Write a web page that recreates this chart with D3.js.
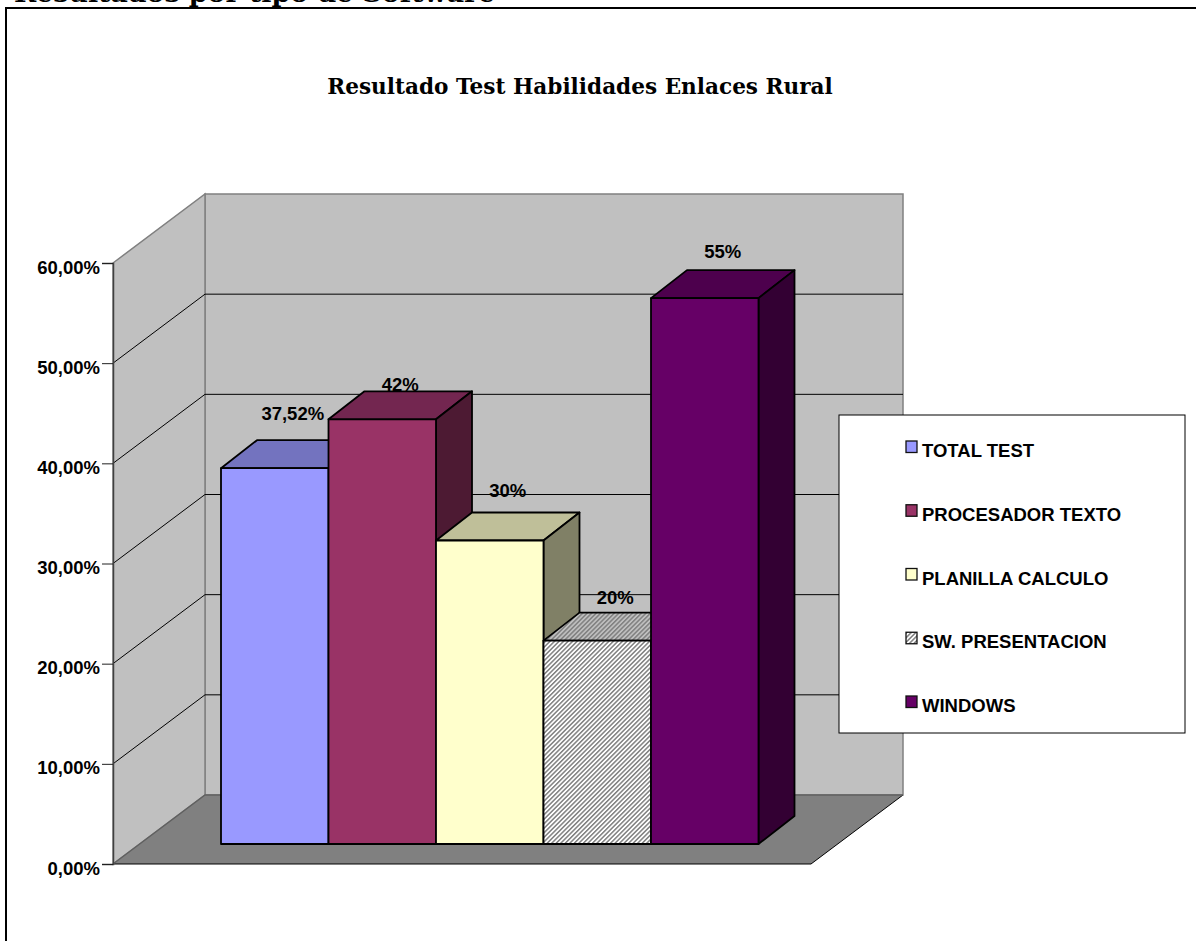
<!DOCTYPE html>
<html>
<head>
<meta charset="utf-8">
<script src="https://cdn.jsdelivr.net/npm/d3@7"></script>
<style>
    html, body { margin: 0; padding: 0; background: #fff; overflow: hidden; }
    svg { display: block; }
    text { font-family: "Liberation Sans", Arial, sans-serif; font-weight: bold; fill: #000; }
    .serif { font-family: "DejaVu Serif", serif; }
</style>
</head>
<body>
<svg id="chart" width="1196" height="941"></svg>
<script>
// --- Data ---
const categories = ["TOTAL TEST", "PROCESADOR TEXTO", "PLANILLA CALCULO", "SW. PRESENTACION", "WINDOWS"];
const values = [37.52, 42.4, 30.3, 20.3, 54.5];
const valueLabels = ["37,52%", "42%", "30%", "20%", "55%"];
const yTicks = [0, 10, 20, 30, 40, 50, 60];
const barColors = ["#9999ff", "#993366", "#ffffcc", "url(#hatch)", "#660066"];
const topColors = ["#7373bf", "#732650", "#bfbf99", "url(#hatchTop)", "#4d004d"];
const sideColors = ["#4d4d80", "#4d1a33", "#808066", "url(#hatchTop)", "#330033"];

const svg = d3.select("#chart");

// --- Layout ---
const depth = { x: 92, y: -69 };       // wall depth
const barDepth = { x: 36, y: -28 };    // bar depth
const y = d3.scaleLinear().domain([0, 60]).range([864, 263]);
const x = d3.scaleBand().domain(categories).range([221, 758.5]);
const floorRight = 811;
const axisLeft = 113;
const barBase = 844;
const labelGap = [26, 6, 21, 15, 18];  // gap above the bar top, differs per bar in the original

const pts = arr => arr.map(p => p.join(",")).join(" ");

// --- Hatch patterns ---
const defs = svg.append("defs");
function hatch(id, bg) {
    const p = defs.append("pattern").attr("id", id)
        .attr("width", 3.2).attr("height", 3.2)
        .attr("patternUnits", "userSpaceOnUse")
        .attr("patternTransform", "rotate(-45)");
    p.append("rect").attr("width", 3.2).attr("height", 3.2).attr("fill", bg);
    p.append("rect").attr("width", 3.2).attr("height", 1.5).attr("fill", "#808080");
}
hatch("hatch", "#fff");
hatch("hatchTop", "#bfbfbf");

// --- Page heading, cut off by the top of the picture ---
svg.append("text").attr("class", "serif")
    .attr("x", 14).attr("y", 2)
    .attr("font-size", 26.8)
    .text("Resultados por tipo de Software");

// --- Outer frame, runs off the right and bottom of the picture ---
svg.append("rect")
    .attr("x", 6).attr("y", 8)
    .attr("width", 1300).attr("height", 1000)
    .attr("fill", "#fff").attr("stroke", "#000").attr("stroke-width", 2);

// --- Chart title ---
svg.append("text").attr("class", "serif")
    .attr("x", 580).attr("y", 94)
    .attr("text-anchor", "middle")
    .attr("font-size", 21.6)
    .text("Resultado Test Habilidades Enlaces Rural");

// --- Walls ---
svg.append("polygon")
    .attr("points", pts([[axisLeft + depth.x, y(60) + depth.y], [floorRight + depth.x, y(60) + depth.y], [floorRight + depth.x, y(0) + depth.y], [axisLeft + depth.x, y(0) + depth.y]]))
    .attr("fill", "#c0c0c0").attr("stroke", "#808080").attr("stroke-width", 1.5);
svg.append("polygon")
    .attr("points", pts([[axisLeft, y(60)], [axisLeft + depth.x, y(60) + depth.y], [axisLeft + depth.x, y(0) + depth.y], [axisLeft, y(0)]]))
    .attr("fill", "#c0c0c0").attr("stroke", "#808080").attr("stroke-width", 1.5);

// --- Gridlines ---
yTicks.filter(t => t > 0 && t < 60).forEach(t => {
    svg.append("polyline")
        .attr("points", pts([[axisLeft, y(t)], [axisLeft + depth.x, y(t) + depth.y], [floorRight + depth.x, y(t) + depth.y]]))
        .attr("fill", "none").attr("stroke", "#000").attr("stroke-width", 1);
});

// --- Floor ---
svg.append("polygon")
    .attr("points", pts([[axisLeft, y(0)], [floorRight, y(0)], [floorRight + depth.x, y(0) + depth.y], [axisLeft + depth.x, y(0) + depth.y]]))
    .attr("fill", "#808080");
svg.append("path")
    .attr("d", `M${axisLeft},${y(0)}L${floorRight},${y(0)}L${floorRight + depth.x},${y(0) + depth.y}`)
    .attr("fill", "none").attr("stroke", "#000").attr("stroke-width", 1);
svg.append("path")
    .attr("d", `M${axisLeft},${y(0)}L${axisLeft + depth.x},${y(0) + depth.y}L${floorRight + depth.x},${y(0) + depth.y}`)
    .attr("fill", "none").attr("stroke", "#606060").attr("stroke-width", 1.5);

// --- Y axis ---
const axis = d3.axisLeft(y)
    .tickValues(yTicks)
    .tickSize(11)
    .tickPadding(2)
    .tickFormat(d => d3.format(".2f")(d).replace(".", ",") + "%");
const axisG = svg.append("g").attr("transform", `translate(${axisLeft},0)`).call(axis);
axisG.selectAll("text")
    .attr("font-size", 18.5)
    .attr("font-family", '"Liberation Sans", Arial, sans-serif')
    .attr("font-weight", "bold")
    .attr("dy", 10);
axisG.select(".domain").attr("stroke", "#404040").attr("stroke-width", 1.5);
axisG.selectAll("line").attr("stroke", "#202020");

const lift = barBase - y(0);

// --- Value labels, behind the bars: the top of "42%" is cut by its bar in the original ---
svg.selectAll("text.value").data(categories).join("text")
    .attr("class", "value")
    .attr("x", d => x(d) + x.bandwidth() / 2 + barDepth.x / 2)
    .attr("y", (d, i) => y(values[i]) + lift + barDepth.y - labelGap[i] + 6)
    .attr("text-anchor", "middle")
    .attr("font-size", 18.5)
    .text((d, i) => valueLabels[i]);

// --- Bars ---
const bars = svg.selectAll("g.bar").data(categories).join("g").attr("class", "bar");
bars.each(function(cat, i) {
    const g = d3.select(this);
    const x0 = x(cat), x1 = x0 + x.bandwidth();
    const top = y(values[i]) + lift;
    g.append("polygon")
        .attr("points", pts([[x0, top], [x0 + barDepth.x, top + barDepth.y], [x1 + barDepth.x, top + barDepth.y], [x1, top]]))
        .attr("fill", topColors[i]);
    g.append("polygon")
        .attr("points", pts([[x1, top], [x1 + barDepth.x, top + barDepth.y], [x1 + barDepth.x, barBase + barDepth.y], [x1, barBase]]))
        .attr("fill", sideColors[i]);
    g.append("rect")
        .attr("x", x0).attr("y", top)
        .attr("width", x.bandwidth()).attr("height", barBase - top)
        .attr("fill", barColors[i]);
    g.selectAll("polygon,rect").attr("stroke", "#000").attr("stroke-width", 1.8).attr("stroke-linejoin", "round");
});

// --- Legend ---
svg.append("rect")
    .attr("x", 839).attr("y", 415)
    .attr("width", 346).attr("height", 318)
    .attr("fill", "#fff").attr("stroke", "#000").attr("stroke-width", 1);
const legendY = d3.scalePoint().domain(categories).range([450, 705]);
const legend = svg.selectAll("g.legend").data(categories).join("g")
    .attr("class", "legend")
    .attr("transform", d => `translate(906,${legendY(d)})`);
legend.append("rect")
    .attr("x", 0).attr("y", -9).attr("width", 11).attr("height", 11.5)
    .attr("fill", (d, i) => barColors[i])
    .attr("stroke", "#111").attr("stroke-width", 1.3);
legend.append("text")
    .attr("x", 16).attr("y", 7)
    .attr("font-size", 18.5)
    .text(d => d);
</script>
</body>
</html>
